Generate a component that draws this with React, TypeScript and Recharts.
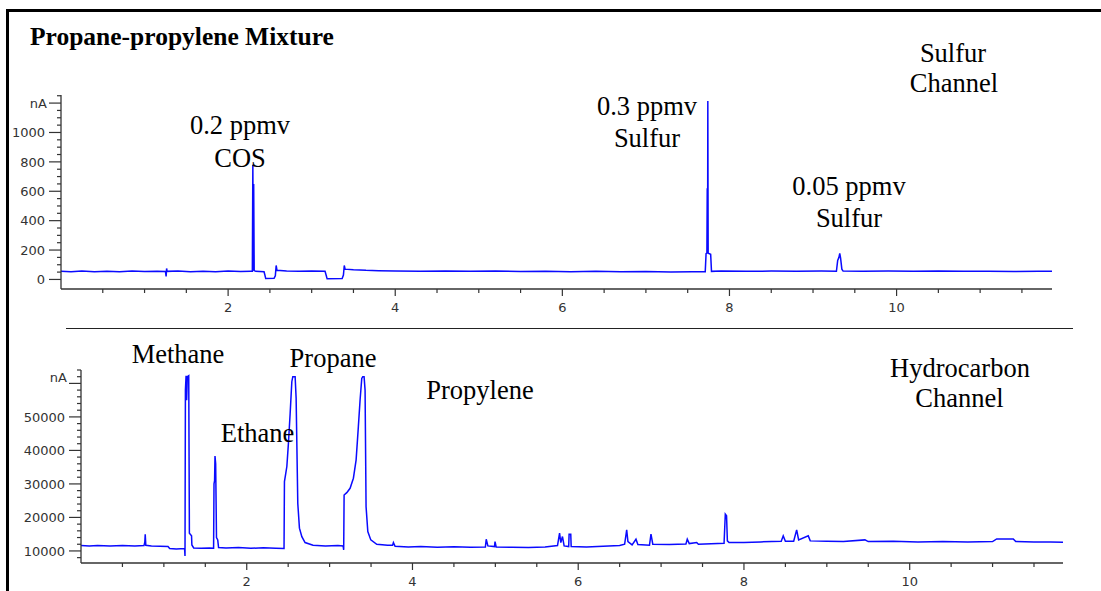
import { Line, LineChart, XAxis, YAxis } from "recharts";

// sulfur channel (top trace): retention time in minutes, signal in nA
const sulfurTime = [
  0, 0.12, 0.25, 0.4, 0.55, 0.7, 0.85, 1.0, 1.15, 1.25,
  1.258, 1.264, 1.27, 1.4, 1.55, 1.7, 1.85, 2.0, 2.15, 2.27,
  2.29, 2.296, 2.302, 2.306, 2.312, 2.33, 2.43, 2.44, 2.45, 2.55,
  2.565, 2.575, 2.585, 2.7, 2.85, 3.0, 3.16, 3.175, 3.185, 3.365,
  3.38, 3.39, 3.4, 3.5, 3.65, 3.8, 4.0, 4.3, 4.6, 4.9,
  5.2, 5.5, 5.8, 6.1, 6.4, 6.7, 7.0, 7.3, 7.55, 7.71,
  7.72, 7.73, 7.734, 7.738, 7.741, 7.745, 7.775, 7.785, 7.9, 8.2,
  8.5, 8.8, 9.1, 9.28, 9.295, 9.31, 9.32, 9.33, 9.345, 9.36,
  9.6, 9.9, 10.2, 10.5, 10.8, 11.1, 11.4, 11.7, 11.86,
];
const sulfurSignal = [
  55, 52, 57, 53, 56, 52, 57, 54, 56, 54,
  20, 75, 55, 57, 53, 56, 52, 57, 54, 56,
  56, 780, 60, 650, 60, 55, 52, 30, 6, 8,
  25, 95, 62, 58, 55, 57, 56, 25, 4, 6,
  30, 95, 70, 66, 62, 60, 58, 56, 58, 55,
  57, 54, 56, 53, 55, 52, 54, 51, 53, 52,
  175, 180, 620, 178, 1215, 178, 172, 55, 57, 55,
  57, 56, 57, 56, 130, 150, 177, 145, 70, 57,
  56, 57, 55, 57, 55, 56, 54, 56, 55,
];

// hydrocarbon channel (bottom trace)
const hcTime = [
  0, 0.1, 0.2, 0.35, 0.5, 0.65, 0.76, 0.77, 0.775, 0.782,
  0.85, 0.95, 1.05, 1.07, 1.15, 1.25, 1.255, 1.26, 1.268, 1.275,
  1.283, 1.3, 1.308, 1.334, 1.338, 1.36, 1.45, 1.55, 1.6, 1.605,
  1.612, 1.617, 1.625, 1.635, 1.65, 1.66, 1.75, 1.9, 2.05, 2.2,
  2.35, 2.45, 2.455, 2.47, 2.484, 2.503, 2.524, 2.544, 2.556, 2.584,
  2.596, 2.616, 2.636, 2.665, 2.704, 2.8, 2.95, 3.1, 3.163, 3.17,
  3.175, 3.207, 3.247, 3.287, 3.32, 3.347, 3.368, 3.388, 3.4, 3.416,
  3.428, 3.44, 3.461, 3.497, 3.569, 3.7, 3.76, 3.77, 3.79, 3.95,
  4.1, 4.3, 4.5, 4.7, 4.88, 4.89, 4.91, 4.99, 4.996, 5.01,
  5.2, 5.4, 5.6, 5.75, 5.775, 5.79, 5.81, 5.83, 5.885, 5.89,
  5.91, 5.915, 6.1, 6.3, 6.5, 6.56, 6.585, 6.6, 6.65, 6.697,
  6.72, 6.86, 6.878, 6.9, 7.1, 7.3, 7.316, 7.34, 7.43, 7.45,
  7.76, 7.775, 7.79, 7.8, 7.82, 8.0, 8.2, 8.45, 8.474, 8.5,
  8.6, 8.636, 8.66, 8.776, 8.8, 9.0, 9.2, 9.46, 9.5, 9.8,
  10.1, 10.4, 10.7, 11.0, 11.05, 11.25, 11.28, 11.5, 11.7, 11.85,
];
const hcSignal = [
  11600, 11500, 11650, 11500, 11600, 11450, 11600, 12600, 15000, 11700,
  11500, 11400, 11300, 10700, 10600, 10700, 8500, 58000, 62300, 55000,
  62000, 62300, 15300, 14500, 11800, 10900, 10800, 10900, 10800, 30000,
  31000, 38300, 36000, 14000, 13300, 11000, 10900, 11000, 10800, 10950,
  10800, 10700, 30700, 33000, 35200, 42100, 51100, 60500, 62000, 62000,
  55600, 24200, 16800, 14270, 12500, 11700, 11500, 11600, 11500, 10300,
  26700, 27400, 28700, 31700, 37200, 47100, 55100, 61500, 62000, 62000,
  58000, 23200, 15800, 13300, 12000, 11700, 11700, 12500, 11400, 11200,
  11300, 11100, 11250, 11100, 11200, 13500, 11500, 11300, 12800, 11200,
  11100, 11000, 11200, 11600, 15300, 12500, 14300, 11500, 11300, 15000,
  15000, 11300, 11200, 11400, 11600, 12000, 16300, 12800, 11800, 13500,
  11900, 11700, 15000, 12000, 11900, 12100, 13500, 12200, 12500, 12000,
  12300, 21000, 20500, 13000, 12500, 12500, 12700, 12900, 14500, 12900,
  12900, 16300, 13300, 14500, 13000, 12900, 12800, 13300, 12800, 12900,
  12700, 12800, 12700, 12800, 13600, 13600, 12800, 12700, 12650, 12600,
];

// axis ticks
const timeTicks = [
  0.5, 1, 1.5, 2, 2.5, 3, 3.5, 4, 4.5, 5, 5.5, 6,
  6.5, 7, 7.5, 8, 8.5, 9, 9.5, 10, 10.5, 11, 11.5,
];
const timeLabels = [2, 4, 6, 8, 10];
const sulfurTicks = [
  0, 50, 100, 150, 200, 250, 300, 350, 400, 450, 500, 550, 600,
  650, 700, 750, 800, 850, 900, 950, 1000, 1050, 1100, 1150, 1200, 1250,
];
const sulfurLabels = [0, 200, 400, 600, 800, 1000];
const hcTicks = [
  8000, 10000, 12000, 14000, 16000, 18000, 20000, 22000, 24000, 26000,
  28000, 30000, 32000, 34000, 36000, 38000, 40000, 42000, 44000, 46000,
  48000, 50000, 52000, 54000, 56000, 58000, 60000, 62000, 64000,
];
const hcLabels = [10000, 20000, 30000, 40000, 50000];

const sulfurData = sulfurTime.map((t, i) => ({ t, v: sulfurSignal[i] }));
const hcData = hcTime.map((t, i) => ({ t, v: hcSignal[i] }));

const AXIS = "#333";
const TRACE = "#0a0aff";
const tickFont = { fontFamily: "DejaVu Sans", fontSize: 13, fill: "#333" };
const serif = { fontFamily: "Liberation Serif", fontSize: 26.5, fill: "#000" };

function TimeTick(props: any) {
  const { x, y, payload } = props;
  const major = timeLabels.includes(payload.value);
  return (
    <g>
      <line x1={x} x2={x} y1={y} y2={y + (major ? 7 : 4)} stroke={AXIS} strokeWidth={1.2} />
      {major && (
        <text x={x} y={y + 22.5} textAnchor="middle" {...tickFont}>
          {payload.value}
        </text>
      )}
    </g>
  );
}

function makeYTick(labels: number[], unitAt: number, unitDy: number) {
  return function YTick(props: any) {
    const { x, y, payload } = props;
    const v = payload.value;
    const labelled = labels.includes(v);
    const unit = v === unitAt;
    const major = labelled || unit;
    return (
      <g>
        <line x1={x - (major ? 12 : 4)} x2={x} y1={y} y2={y} stroke={AXIS} strokeWidth={1.2} />
        {labelled && (
          <text x={x - 16} y={y + 4.7} textAnchor="end" {...tickFont}>
            {v}
          </text>
        )}
        {unit && (
          <text x={x - 14} y={y + 4.7 + unitDy} textAnchor="end" {...tickFont}>
            nA
          </text>
        )}
      </g>
    );
  };
}

const SulfurYTick = makeYTick(sulfurLabels, 1200, 0);
const HcYTick = makeYTick(hcLabels, 60000, -6);

export default function App() {
  return (
    <div style={{ position: "absolute", left: 0, top: 0, width: 1101, height: 591, background: "#fff", overflow: "hidden" }}>
      <div style={{ position: "absolute", left: 0, top: 0 }}>
        <LineChart width={1101} height={320} data={sulfurData} margin={{ top: 95, right: 49, bottom: 0, left: 0 }}>
          <XAxis
            dataKey="t"
            type="number"
            domain={[0, 11.86]}
            allowDataOverflow
            ticks={timeTicks}
            interval={0}
            tick={TimeTick}
            tickLine={false}
            tickSize={0}
            tickMargin={0}
            height={31}
            axisLine={{ stroke: AXIS, strokeWidth: 1.3 }}
          />
          <YAxis
            type="number"
            domain={[-65, 1255]}
            allowDataOverflow
            ticks={sulfurTicks}
            interval={0}
            tick={SulfurYTick}
            tickLine={false}
            tickSize={0}
            tickMargin={0}
            width={61}
            axisLine={{ stroke: AXIS, strokeWidth: 1.3 }}
          />
          <Line dataKey="v" type="linear" stroke={TRACE} strokeWidth={1.5} dot={false} isAnimationActive={false} />
        </LineChart>
      </div>
      <div style={{ position: "absolute", left: 0, top: 330 }}>
        <LineChart width={1101} height={261} data={hcData} margin={{ top: 40, right: 38, bottom: 0, left: 0 }}>
          <XAxis
            dataKey="t"
            type="number"
            domain={[0, 11.85]}
            allowDataOverflow
            ticks={timeTicks}
            interval={0}
            tick={TimeTick}
            tickLine={false}
            tickSize={0}
            tickMargin={0}
            height={28}
            axisLine={{ stroke: AXIS, strokeWidth: 1.3 }}
          />
          <YAxis
            type="number"
            domain={[6400, 64000]}
            allowDataOverflow
            ticks={hcTicks}
            interval={0}
            tick={HcYTick}
            tickLine={false}
            tickSize={0}
            tickMargin={0}
            width={81}
            axisLine={{ stroke: AXIS, strokeWidth: 1.3 }}
          />
          <Line dataKey="v" type="linear" stroke={TRACE} strokeWidth={1.5} dot={false} isAnimationActive={false} />
        </LineChart>
      </div>
      <svg width={1101} height={591} style={{ position: "absolute", left: 0, top: 0, pointerEvents: "none" }}>
        <line x1={7.5} x2={7.5} y1={9} y2={591} stroke="#000" strokeWidth={3} />
        <line x1={6} x2={1101} y1={10.5} y2={10.5} stroke="#000" strokeWidth={3} />
        <line x1={66} x2={1073} y1={328.5} y2={328.5} stroke="#222" strokeWidth={1} />
        <text x={30} y={45} fontFamily="Liberation Serif" fontSize={25.5} fontWeight="bold" fill="#000">
          Propane-propylene Mixture
        </text>
        <g textAnchor="middle">
          <text x={953} y={62} {...serif}>Sulfur</text>
          <text x={954} y={92} {...serif}>Channel</text>
          <text x={240} y={134} {...serif}>0.2 ppmv</text>
          <text x={240} y={167} {...serif}>COS</text>
          <text x={647} y={115} {...serif}>0.3 ppmv</text>
          <text x={647} y={146.5} {...serif}>Sulfur</text>
          <text x={849} y={195} {...serif}>0.05 ppmv</text>
          <text x={849} y={226.5} {...serif}>Sulfur</text>
          <text x={178} y={362.5} {...serif}>Methane</text>
          <text x={333} y={366.5} {...serif}>Propane</text>
          <text x={480} y={399} {...serif}>Propylene</text>
          <text x={257.5} y={441.5} {...serif}>Ethane</text>
          <text x={960} y={377} {...serif}>Hydrocarbon</text>
          <text x={959.5} y={407} {...serif}>Channel</text>
        </g>
      </svg>
    </div>
  );
}
